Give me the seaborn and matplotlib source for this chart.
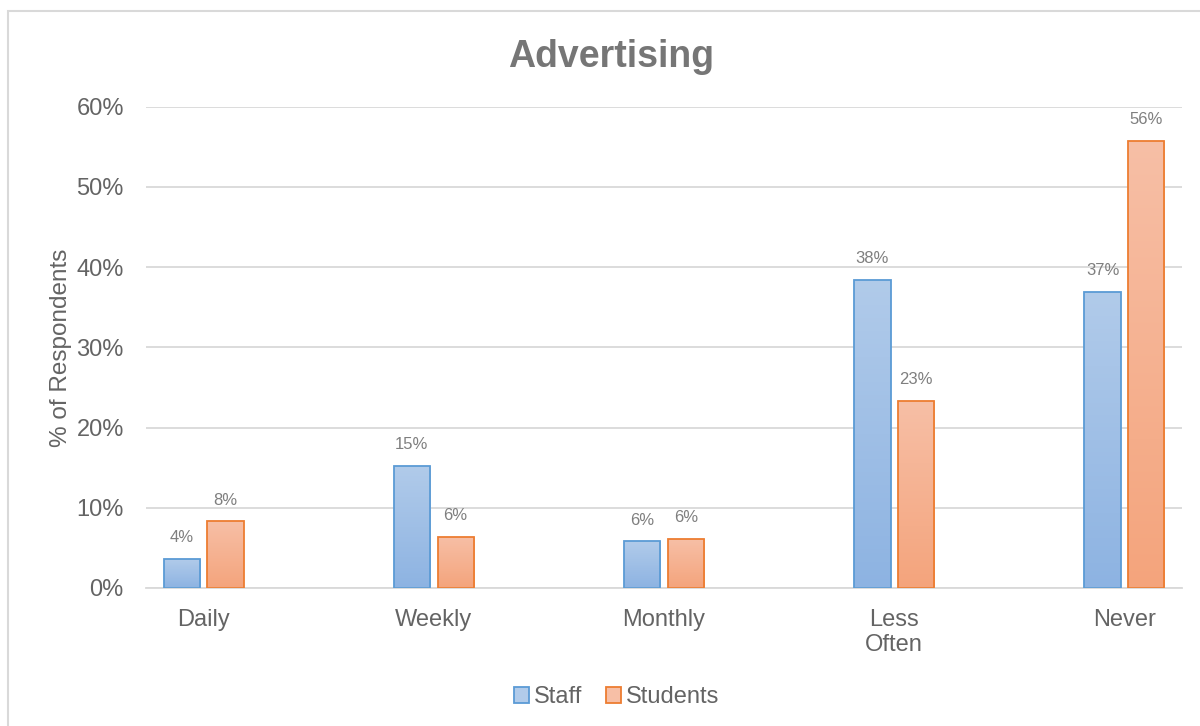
import matplotlib
matplotlib.use("Agg")
import matplotlib.pyplot as plt
import matplotlib.patches as mpatches
from matplotlib.colors import LinearSegmentedColormap
import numpy as np
import pandas as pd
import seaborn as sns

categories = ["Daily", "Weekly", "Monthly", "Less\nOften", "Never"]
staff = [3.6, 15.2, 5.8, 38.4, 36.9]
students = [8.3, 6.4, 6.1, 23.3, 55.7]
series = ["Staff", "Students"]
y_ticks = [0, 10, 20, 30, 40, 50, 60]

edge_colors = {"Staff": "#5b9bd5", "Students": "#ed7d31"}
grad_colors = {"Staff": ("#b1cbea", "#8db3e2"), "Students": ("#f7bfa6", "#f4a47c")}

df = pd.DataFrame({
    "Category": categories * 2,
    "Value": staff + students,
    "Group": ["Staff"] * len(categories) + ["Students"] * len(categories),
})

sns.set_theme(style="white")
plt.rcParams["font.family"] = ["Liberation Sans", "DejaVu Sans"]

fig = plt.figure(figsize=(12, 7.26), dpi=100)
ax = fig.add_axes([0.1217, 0.1901, 0.8633, 0.663])

sns.barplot(data=df, x="Category", y="Value", hue="Group", order=categories,
            hue_order=series, palette=edge_colors, width=0.38, gap=0.17,
            legend=False, ax=ax, errorbar=None)

# vertical gradient fill inside each bar, edge kept on top
gradient = np.linspace(0, 1, 256).reshape(-1, 1)
for container, name in zip(ax.containers, series):
    top_c, bot_c = grad_colors[name]
    cmap = LinearSegmentedColormap.from_list(name, [bot_c, top_c])
    for bar, val in zip(container.patches, container.datavalues):
        x0 = bar.get_x()
        w = bar.get_width()
        h = bar.get_height()
        bar.set_facecolor("none")
        bar.set_edgecolor(edge_colors[name])
        bar.set_linewidth(1.3)
        bar.set_zorder(3)
        im = ax.imshow(gradient, cmap=cmap, aspect="auto", origin="lower",
                       extent=[x0, x0 + w, 0, h], zorder=2.5, interpolation="bicubic")
        im.set_clip_path(bar)
        ax.annotate(f"{val:.0f}%", (x0 + w / 2, h), xytext=(0, 10),
                    textcoords="offset points", ha="center", va="bottom",
                    fontsize=12, color="#7f7f7f")

ax.set_aspect("auto")
ax.set_xlim(-0.25, 4.25)
ax.set_ylim(0, 60)

ax.set_yticks(y_ticks)
ax.set_yticklabels([f"{t}%" for t in y_ticks])
ax.yaxis.grid(True, color="#d9d9d9", linewidth=1.3)
ax.set_axisbelow(True)
for s in ["top", "right", "left"]:
    ax.spines[s].set_visible(False)
ax.spines["bottom"].set_color("#d9d9d9")
ax.spines["bottom"].set_linewidth(1.3)

ax.tick_params(axis="y", length=0, pad=16, labelsize=17, labelcolor="#646464")
ax.tick_params(axis="x", length=0, pad=15, labelsize=17, labelcolor="#646464")
ax.set_xlabel("")
ax.set_ylabel("% of Respondents", fontsize=17.5, color="#646464", labelpad=3)

fig.text(0.5092, 0.921, "Advertising", ha="center", va="center",
         fontsize=27, fontweight="bold", color="#767676")

handles = [mpatches.Patch(facecolor=grad_colors[n][0], edgecolor=edge_colors[n],
                          linewidth=1.3, label=n) for n in series]
fig.legend(handles=handles, loc="center", bbox_to_anchor=(0.514, 0.040),
           ncol=2, frameon=False, fontsize=17, labelcolor="#646464",
           handlelength=0.65, handleheight=0.65, handletextpad=0.2, columnspacing=1.0)

# outer chart border
fig.patches.append(mpatches.Rectangle((8 / 1200, -0.1), 1.2, 1 - 11 / 726 + 0.1,
                                      transform=fig.transFigure, fill=False,
                                      edgecolor="#d9d9d9", linewidth=1.5))

fig.savefig("out.png", dpi=100)
